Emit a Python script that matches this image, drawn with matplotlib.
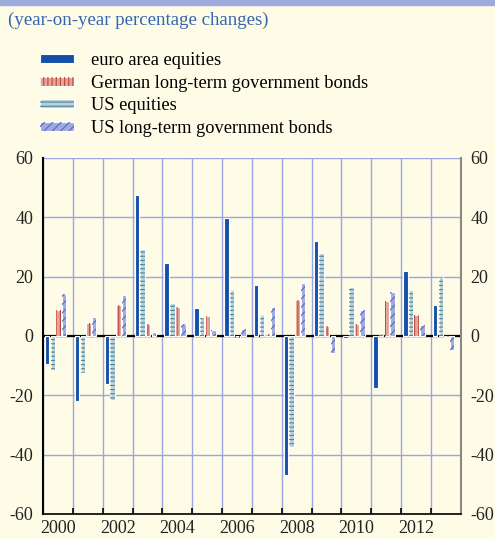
import numpy as np
import matplotlib
matplotlib.use('Agg')
import matplotlib.pyplot as plt
from matplotlib.legend_handler import HandlerTuple

plt.rcParams['font.family'] = ['Liberation Serif', 'DejaVu Serif']
plt.rcParams['hatch.linewidth'] = 0.8
plt.rcParams['axes.unicode_minus'] = False

# year-on-year percentage changes
years = np.arange(2000, 2014)
euro_equities = [-9.6, -21.8, -16.2, 47.5, 24.6, 9.5, 39.7, 17.3, -46.9, 31.9, -0.8, -17.5, 22.0, 10.3]
us_equities = [-11.6, -12.4, -21.7, 29.3, 11.2, 5.9, 15.4, 7.1, -37.4, 27.9, 16.4, 0.4, 15.6, 19.8]
german_bonds = [8.8, 4.2, 10.6, 4.1, 9.7, 6.6, -0.8, 0.6, 12.2, 3.4, 4.1, 11.9, 6.9, -0.3]
us_bonds = [14.3, 6.5, 13.9, 1.4, 4.0, 2.0, 2.3, 9.9, 17.7, -5.9, 8.8, 14.7, 3.7, -4.7]

labels = ['euro area equities', 'German long-term government bonds',
          'US equities', 'US long-term government bonds']
tick_years = years[::2]

bg = '#fefce6'
grid_col = '#9ba4e6'

fig = plt.figure(figsize=(4.95, 5.39), dpi=100, facecolor=bg)
ax = fig.add_axes([0.087, 0.0464, 0.844, 0.6606], facecolor=bg)

# blue band on top
fig.patches.append(plt.Rectangle((0, 0.991), 1, 0.009, transform=fig.transFigure,
                                 color='#9ea9dc', zorder=0))
fig.text(0.016, 0.962, '(year-on-year percentage changes)', color='#3465b0',
         fontsize=13.6, va='center', ha='left')

w = 0.15
offs = [0.14, 0.33, 0.52, 0.71]
x = years.astype(float)

h_euro = ax.bar(x + offs[0], euro_equities, w, align='center', color='#1550a8',
                edgecolor='white', linewidth=0.8, zorder=3)
h_use = ax.bar(x + offs[1], us_equities, w, color='#bcd0d8', edgecolor='white',
               linewidth=0.8, zorder=3)
h_use2 = ax.bar(x + offs[1], us_equities, w, color='none', edgecolor='#4a8898',
                hatch='----', linewidth=0, zorder=4)
h_ger = ax.bar(x + offs[2], german_bonds, w, color='#e3a696', edgecolor='white',
               linewidth=0.8, zorder=3)
h_ger2 = ax.bar(x + offs[2], german_bonds, w, color='none', edgecolor='#c0453a',
                hatch='||||', linewidth=0, zorder=4)
h_usb = ax.bar(x + offs[3], us_bonds, w, color='#a0aade', edgecolor='white',
               linewidth=0.8, zorder=3)
h_usb2 = ax.bar(x + offs[3], us_bonds, w, color='none', edgecolor='#5a68c0',
                hatch='////', linewidth=0, zorder=4)

ax.axhline(0, color='black', linewidth=1.6, zorder=2)

ax.set_xlim(2000, 2014)
ax.set_ylim(-60, 60)
ax.set_yticks(np.arange(-60, 61, 20))
ax.set_xticks(np.arange(2000, 2015), minor=False)
ax.set_xticklabels([])
ax.set_xticks(tick_years + 0.5, minor=True)
ax.set_xticklabels([str(y) for y in tick_years], minor=True)
ax.tick_params(axis='x', which='major', direction='in', length=4, width=1.2, color='black')
ax.tick_params(axis='x', which='minor', length=0, labelsize=13, pad=4)
ax.tick_params(axis='y', which='both', length=0, labelsize=13,
               left=True, right=True, labelleft=True, labelright=True, pad=7)
for lab in ax.get_yticklabels() + ax.get_xticklabels(minor=True):
    lab.set_color('#222222')

ax.grid(True, which='major', color=grid_col, linewidth=1.0, zorder=0)
ax.set_axisbelow(True)
ax.spines['top'].set_visible(False)
ax.spines['left'].set_color('black')
ax.spines['left'].set_linewidth(1.5)
ax.spines['bottom'].set_color('black')
ax.spines['bottom'].set_linewidth(1.2)
ax.spines['right'].set_color('#888888')
ax.spines['right'].set_linewidth(1.5)

fig.legend([h_euro, (h_ger, h_ger2), (h_use, h_use2), (h_usb, h_usb2)], labels,
           handler_map={tuple: HandlerTuple(ndivide=1, pad=0)},
           loc='upper left', bbox_to_anchor=(0.081, 0.903), frameon=False,
           fontsize=13.2, handlelength=1.85, handleheight=0.4, handletextpad=0.95,
           labelspacing=0.3, borderpad=0, borderaxespad=0)

fig.savefig('out.png', dpi=100, facecolor=bg)
